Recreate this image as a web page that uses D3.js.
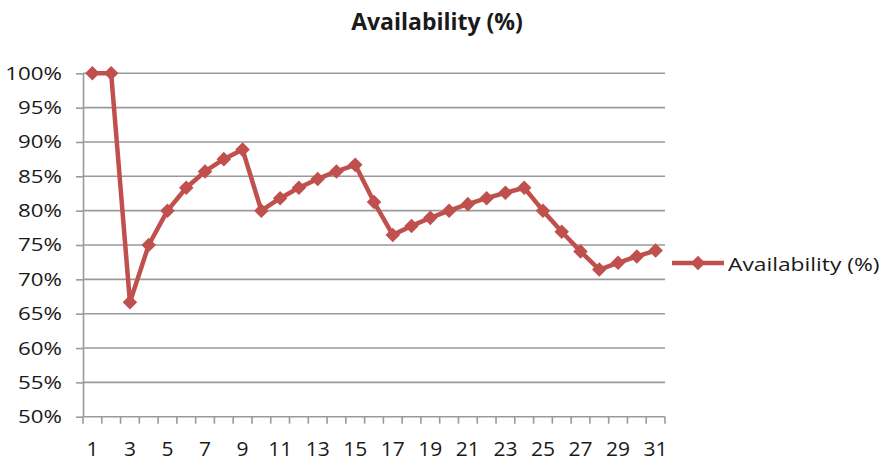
<!DOCTYPE html>
<html>
<head>
<meta charset="utf-8">
<script src="https://cdn.jsdelivr.net/npm/d3@7/dist/d3.min.js"></script>
<style>
  html, body { margin: 0; padding: 0; background: #fff; }
  svg { display: block; font-family: "Open Sans", "Liberation Sans", sans-serif; }
</style>
</head>
<body>
<svg id="chart" width="880" height="461"></svg>
<script>
// Daily availability, days 1..31
const days = d3.range(1, 32);
const availability = [
  100, 100, 66.67, 75, 80, 83.33, 85.71, 87.5, 88.89, 80,
  81.82, 83.33, 84.62, 85.71, 86.67, 81.25, 76.47, 77.78, 78.95, 80,
  80.95, 81.82, 82.61, 83.33, 80, 76.92, 74.07, 71.43, 72.41, 73.33,
  74.19
];
const yTicks = [50, 55, 60, 65, 70, 75, 80, 85, 90, 95, 100];
const xTickLabels = days.filter(d => d % 2 === 1);
const seriesName = "Availability (%)";

const red = "#C0504D";
const grid = "#9a9a9a";
const ink = "#1a1a1a";

const svg = d3.select("#chart");
const plot = { left: 83, right: 665, top: 73.3, bottom: 416.7 };

const x = d3.scaleBand().domain(days).range([plot.left, plot.right]).padding(0);
const y = d3.scaleLinear().domain([50, 100]).range([plot.bottom, plot.top]);

// Text with a slightly widened face
function label(g, px, py, txt, size, anchor, sx) {
  return g.append("text")
    .attr("transform", `translate(${px},${py}) scale(${sx},1)`)
    .attr("text-anchor", anchor)
    .attr("dy", "0.36em")
    .attr("font-size", size)
    .attr("fill", ink)
    .text(txt);
}

// Title
svg.append("text")
  .attr("x", 437).attr("y", 30)
  .attr("text-anchor", "middle")
  .attr("font-size", 23).attr("font-weight", "bold")
  .attr("fill", ink)
  .text(seriesName);

// Horizontal gridlines
svg.append("g").selectAll("line").data(yTicks.filter(v => v > 50)).join("line")
  .attr("x1", plot.left).attr("x2", plot.right)
  .attr("y1", d => y(d)).attr("y2", d => y(d))
  .attr("stroke", grid).attr("stroke-width", 1.6);

// Y axis
const yAxis = svg.append("g")
  .attr("transform", `translate(${plot.left},0)`)
  .call(d3.axisLeft(y).tickValues(yTicks).tickFormat("").tickSize(7).tickSizeOuter(0));
yAxis.select(".domain").attr("stroke", grid).attr("stroke-width", 1.6);
yAxis.selectAll(".tick line").attr("stroke", grid).attr("stroke-width", 1.6);
const yLab = svg.append("g");
yTicks.forEach(v => label(yLab, 62, y(v), v + "%", 18, "end", 1.24));

// X axis: ticks at category boundaries, labels on odd days
const xAxisG = svg.append("g").attr("transform", `translate(0,${plot.bottom})`);
xAxisG.append("line")
  .attr("x1", plot.left).attr("x2", plot.right)
  .attr("stroke", grid).attr("stroke-width", 1.6);
const boundaries = days.map(d => x(d)).concat([x(31) + x.bandwidth()]);
xAxisG.selectAll("line.tk").data(boundaries).join("line")
  .attr("class", "tk")
  .attr("x1", d => d).attr("x2", d => d)
  .attr("y1", 0).attr("y2", 7)
  .attr("stroke", grid).attr("stroke-width", 1.6);
const xLab = svg.append("g");
xTickLabels.forEach(d => label(xLab, x(d) + x.bandwidth() / 2, 449, d, 20, "middle", 1.05));

// Series line
const cx = d => x(d) + x.bandwidth() / 2;
const line = d3.line().x((v, i) => cx(days[i])).y(v => y(v));
svg.append("path")
  .datum(availability)
  .attr("d", line)
  .attr("fill", "none")
  .attr("stroke", red).attr("stroke-width", 4.5)
  .attr("stroke-linejoin", "round");

// Diamond markers
const diamond = d3.symbol().type(d3.symbolDiamond2).size(135);
svg.append("g").selectAll("path").data(availability).join("path")
  .attr("transform", (v, i) => `translate(${cx(days[i])},${y(v)})`)
  .attr("d", diamond)
  .attr("fill", red);

// Legend
const lg = svg.append("g").attr("transform", "translate(672,263)");
lg.append("line").attr("x1", 0).attr("x2", 52).attr("y1", 0).attr("y2", 0)
  .attr("stroke", red).attr("stroke-width", 4.5);
lg.append("path").attr("transform", "translate(26,0)").attr("d", diamond).attr("fill", red);
label(lg, 56, 1, seriesName, 19, "start", 1.2);
</script>
</body>
</html>
